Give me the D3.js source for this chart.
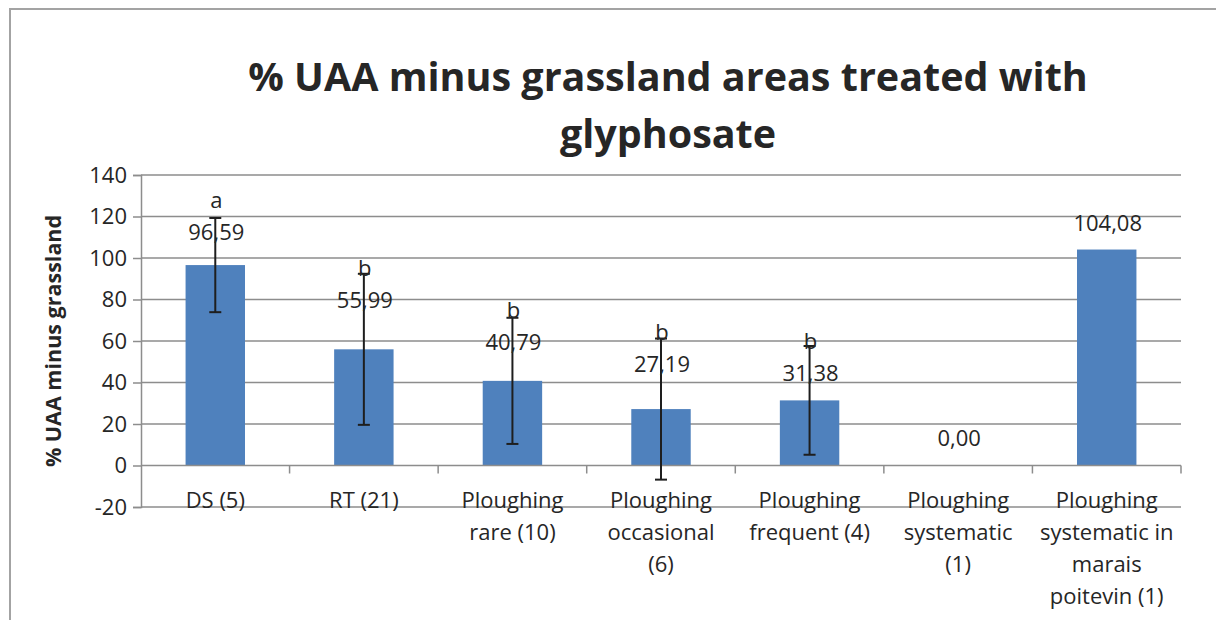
<!DOCTYPE html>
<html>
<head>
<meta charset="utf-8">
<script src="https://cdn.jsdelivr.net/npm/d3@7"></script>
<style>
  body { margin: 0; background: #fff; }
  svg { display: block; font-family: "Open Sans", sans-serif; }
</style>
</head>
<body>
<script>
// chart data
var categories = ["DS (5)", "RT (21)", "Ploughing\nrare (10)", "Ploughing\noccasional\n(6)",
                  "Ploughing\nfrequent (4)", "Ploughing\nsystematic\n(1)", "Ploughing\nsystematic in\nmarais\npoitevin (1)"];
var values = [96.59, 55.99, 40.79, 27.19, 31.38, 0.00, 104.08];
var errors = [22.7, 36.4, 30.4, 34.0, 26.2, null, null];
var letters = ["a", "b", "b", "b", "b", "", ""];
var yTicks = [-20, 0, 20, 40, 60, 80, 100, 120, 140];

// labels were dragged by hand in the original, lift above bar top in px
var labelLift = [33, 49, 39, 45, 27, 27, 26];

var W = 1216, H = 620;
var plotL = 141, plotR = 1181, plotT = 175, plotB = 507;

var svg = d3.select("body").append("svg")
    .attr("width", W)
    .attr("height", H);

// outer chart frame (right and bottom run off the page)
svg.append("rect")
    .attr("x", 10).attr("y", 9)
    .attr("width", 1240).attr("height", 660)
    .attr("fill", "none")
    .attr("stroke", "#a3a3a3")
    .attr("stroke-width", 2);

var x = d3.scaleBand()
    .domain(categories)
    .range([plotL, plotR])
    .paddingInner(0.6)
    .paddingOuter(0.3);

var y = d3.scaleLinear()
    .domain([-20, 140])
    .range([plotB, plotT]);

var loc = d3.formatLocale({decimal: ",", thousands: ".", grouping: [3], currency: ["", ""]});
var fmt = loc.format(".2f");

var grey = "#8d8d8d";
var ink = "#262626";

// gridlines
svg.append("g").selectAll("line")
    .data(yTicks.filter(function(t){ return t != 0; }))
    .enter().append("line")
    .attr("x1", plotL).attr("x2", plotR)
    .attr("y1", function(d){ return y(d); })
    .attr("y2", function(d){ return y(d); })
    .attr("stroke", grey)
    .attr("stroke-width", 1.5);

// y axis
var yAxis = svg.append("g")
    .attr("transform", "translate(" + plotL + ",0)")
    .call(d3.axisLeft(y).tickValues(yTicks).tickSize(8).tickPadding(6)
        .tickFormat(function(d){ return String(d); }));
yAxis.select(".domain").attr("stroke", grey).attr("stroke-width", 1.5);
yAxis.selectAll(".tick line").attr("stroke", grey).attr("stroke-width", 1.5);
yAxis.selectAll(".tick text")
    .attr("fill", ink)
    .style("font-size", "22px")
    .style("font-family", "'Open Sans', sans-serif");

// bars
svg.append("g").selectAll("rect")
    .data(values)
    .enter().append("rect")
    .attr("x", function(d, i){ return x(categories[i]); })
    .attr("width", x.bandwidth())
    .attr("y", function(d){ return y(Math.max(0, d)); })
    .attr("height", function(d){ return Math.abs(y(d) - y(0)); })
    .attr("fill", "#4f81bd");

// x axis at zero with category boundary ticks
var xAxis = svg.append("g");
xAxis.append("line")
    .attr("x1", plotL).attr("x2", plotR)
    .attr("y1", y(0)).attr("y2", y(0))
    .attr("stroke", grey).attr("stroke-width", 1.5);
var bounds = categories.map(function(c){ return x(c) - x.step() * 0.3; });
bounds.push(plotR);
xAxis.selectAll(".xt")
    .data(bounds.slice(1))
    .enter().append("line")
    .attr("class", "xt")
    .attr("x1", function(d){ return d; }).attr("x2", function(d){ return d; })
    .attr("y1", y(0)).attr("y2", y(0) + 8)
    .attr("stroke", grey).attr("stroke-width", 1.5);

// error bars
var eb = svg.append("g").selectAll("g")
    .data(values.map(function(v, i){ return {v: v, e: errors[i], c: categories[i]}; })
        .filter(function(d){ return d.e != null; }))
    .enter().append("g")
    .attr("stroke", "#1e1e1e")
    .attr("stroke-width", 2);
eb.append("line")
    .attr("x1", function(d){ return x(d.c) + x.bandwidth() / 2; })
    .attr("x2", function(d){ return x(d.c) + x.bandwidth() / 2; })
    .attr("y1", function(d){ return y(d.v + d.e); })
    .attr("y2", function(d){ return y(d.v - d.e); });
[1, -1].forEach(function(s){
    eb.append("line")
        .attr("x1", function(d){ return x(d.c) + x.bandwidth() / 2 - 6; })
        .attr("x2", function(d){ return x(d.c) + x.bandwidth() / 2 + 6; })
        .attr("y1", function(d){ return y(d.v + s * d.e); })
        .attr("y2", function(d){ return y(d.v + s * d.e); });
});

// value labels and significance letters
var lab = svg.append("g").selectAll("g")
    .data(values)
    .enter().append("g")
    .attr("transform", function(d, i){
        return "translate(" + (x(categories[i]) + x.bandwidth() / 2 + 1) + "," + (y(Math.max(0, d)) - labelLift[i]) + ")";
    })
    .attr("text-anchor", "middle")
    .attr("fill", ink)
    .style("font-size", "22px");
lab.append("text")
    .attr("dy", "0.36em")
    .text(function(d){ return fmt(d); });
lab.append("text")
    .attr("y", -32)
    .attr("dy", "0.36em")
    .text(function(d, i){ return letters[i]; });

// category labels
var cat = svg.append("g").selectAll("text")
    .data(categories)
    .enter().append("text")
    .attr("text-anchor", "middle")
    .attr("fill", ink)
    .style("font-size", "22px")
    .attr("transform", function(d){ return "translate(" + (x(d) + x.bandwidth() / 2) + ",500)"; });
cat.selectAll("tspan")
    .data(function(d){ return d.split("\n"); })
    .enter().append("tspan")
    .attr("x", 0)
    .attr("y", function(d, i){ return i * 32; })
    .attr("dy", "0.36em")
    .text(function(d){ return d; });

// y axis title
svg.append("text")
    .attr("transform", "translate(53," + ((plotT + plotB) / 2) + ") rotate(-90)")
    .attr("text-anchor", "middle")
    .attr("dy", "0.36em")
    .attr("fill", ink)
    .style("font-size", "21.5px")
    .style("font-weight", "bold")
    .text("% UAA minus grassland");

// chart title
var title = svg.append("text")
    .attr("text-anchor", "middle")
    .attr("fill", ink)
    .style("font-size", "39.5px")
    .style("font-weight", "bold");
title.append("tspan").attr("x", 668).attr("y", 91).text("% UAA minus grassland areas treated with");
title.append("tspan").attr("x", 668).attr("y", 148).text("glyphosate");
</script>
</body>
</html>
